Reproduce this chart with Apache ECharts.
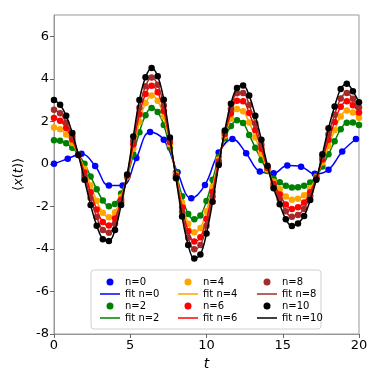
<!DOCTYPE html>
<html>
<head>
<meta charset="utf-8">
<script src="https://cdn.jsdelivr.net/npm/echarts@6/dist/echarts.min.js"></script>
<style>
  html, body { margin: 0; padding: 0; background: #fff; }
  #chart { width: 382px; height: 382px; }
</style>
</head>
<body>
<div id="chart"></div>
<script>
// time points (dense grid for n>=2, coarse grid for n=0)
const tFine = [0,0.4,0.8,1.2,1.6,2,2.4,2.8,3.2,3.6,4,4.4,4.8,
  5.2,5.6,6,6.4,6.8,7.2,7.6,8,8.4,8.8,9.2,9.6,10,
  10.4,10.8,11.2,11.6,12,12.4,12.8,13.2,13.6,14,14.4,14.8,15.2,
  15.6,16,16.4,16.8,17.2,17.6,18,18.4,18.8,19.2,19.6,20]
const tN0 = [0,0.9,1.8,2.7,3.6,4.5,5.4,6.3,7.2,8.1,9,9.9,10.8,11.7,12.6,13.5,14.4,15.3,16.2,17.1,18,18.9,19.8]

const n0 = [0,0.24,0.47,-0.1,-1.02,-1.02,0.27,1.5,1.13,-0.4,-1.62,-0.99,0.53,1.17,0.5,-0.36,-0.44,-0.08,-0.13,-0.47,-0.28,0.58,1.17]
const n2 = [1.11,1.09,0.97,0.76,0.44,0.01,-0.59,-1.19,-1.72,-1.99,-1.89,-1.39,-0.63,
  0.45,1.49,2.29,2.63,2.44,1.83,0.77,-0.41,-1.52,-2.36,-2.6,-2.43,-1.75,
  -0.75,0.32,1.21,1.78,2.05,1.92,1.36,0.76,0.18,-0.34,-0.7,-0.86,-1.03,
  -1.11,-1.1,-1.03,-0.88,-0.57,-0.12,0.45,1.06,1.63,1.93,1.95,1.83]
const n4 = [1.71,1.63,1.38,0.98,0.43,-0.23,-1.01,-1.74,-2.3,-2.51,-2.28,-1.56,-0.59,
  0.71,1.97,2.86,3.22,2.97,2.21,0.92,-0.5,-1.82,-2.82,-3.22,-3.01,-2.23,
  -1.08,0.2,1.32,2.12,2.58,2.47,1.95,1.24,0.48,-0.26,-0.84,-1.19,-1.53,
  -1.69,-1.64,-1.48,-1.14,-0.63,0.06,0.84,1.58,2.23,2.51,2.42,2.17]
const n6 = [2.16,2.03,1.69,1.14,0.43,-0.41,-1.33,-2.15,-2.73,-2.9,-2.57,-1.69,-0.56,
  0.91,2.33,3.28,3.67,3.37,2.49,1.03,-0.56,-2.05,-3.17,-3.65,-3.45,-2.59,
  -1.32,0.11,1.41,2.37,2.97,2.94,2.39,1.59,0.71,-0.2,-0.95,-1.44,-1.91,
  -2.12,-2.04,-1.82,-1.34,-0.67,0.2,1.13,1.97,2.68,2.95,2.76,2.42]
const n8 = [2.55,2.38,1.95,1.29,0.42,-0.57,-1.61,-2.5,-3.11,-3.24,-2.82,-1.8,-0.53,
  1.09,2.64,3.65,4.06,3.72,2.74,1.13,-0.62,-2.25,-3.47,-4.02,-3.82,-2.91,
  -1.54,0.04,1.48,2.58,3.32,3.33,2.77,1.9,0.9,-0.15,-1.04,-1.65,-2.23,
  -2.49,-2.4,-2.11,-1.51,-0.71,0.32,1.39,2.31,3.07,3.33,3.06,2.65]
const n10 = [3,2.78,2.26,1.45,0.42,-0.75,-1.93,-2.91,-3.54,-3.63,-3.11,-1.93,-0.5,
  1.29,3,4.07,4.51,4.12,3.02,1.24,-0.68,-2.48,-3.82,-4.45,-4.26,-3.27,
  -1.78,-0.05,1.57,2.83,3.57,3.69,3.21,2.26,1.13,-0.09,-1.15,-1.9,-2.61,
  -2.92,-2.8,-2.45,-1.7,-0.75,0.45,1.68,2.7,3.52,3.77,3.41,2.9]

const xTicks = [0, 5, 10, 15, 20]
const yTicks = [-8, -6, -4, -2, 0, 2, 4, 6]

const groups = [
  { name: 'n=0', t: tN0, y: n0, color: '#0000ff' },
  { name: 'n=2', t: tFine, y: n2, color: '#008000' },
  { name: 'n=4', t: tFine, y: n4, color: '#ffa500' },
  { name: 'n=6', t: tFine, y: n6, color: '#ff0000' },
  { name: 'n=8', t: tFine, y: n8, color: '#a52a2a' },
  { name: 'n=10', t: tFine, y: n10, color: '#000000' }
]

const pairs = (t, y) => t.map((v, i) => [v, y[i]])

let series = []
groups.forEach((g, k) => {
  series.push({
    name: g.name,
    type: 'scatter',
    data: pairs(g.t, g.y),
    symbol: 'circle',
    symbolSize: 6.5,
    itemStyle: { color: g.color, opacity: 1 },
    z: 2 + k * 2,
    animation: false
  })
  series.push({
    name: 'fit ' + g.name,
    type: 'line',
    data: pairs(g.t, g.y),
    smooth: 0.4,
    showSymbol: false,
    symbol: 'none',
    lineStyle: { color: g.color, width: 1.5 },
    itemStyle: { color: g.color },
    z: 3 + k * 2,
    animation: false
  })
})

// legend icons: dot for data, plain short line for fits
const lineIcon = 'path://M0,0L20,0L20,1.5L0,1.5Z'
const legendItems = names => names.map(n => n.startsWith('fit')
  ? { name: n, icon: lineIcon }
  : { name: n, icon: 'circle' })

const legendBase = {
  orient: 'vertical',
  top: 272,
  itemWidth: 20,
  itemHeight: 7,
  itemGap: 2,
  selectedMode: false,
  z: 20,
  textStyle: { fontFamily: 'DejaVu Sans', fontSize: 10, color: '#000' }
}
const leg = (left, names) => Object.assign({}, legendBase, {
  left: left,
  data: legendItems(names)
})

const chart = echarts.init(document.getElementById('chart'), null, { renderer: 'canvas' })
chart.setOption({
  animation: false,
  grid: {
    left: 54, right: 23, top: 15, bottom: 48,
    show: true, borderColor: '#999', borderWidth: 1
  },
  xAxis: {
    type: 'value',
    min: 0, max: 20, interval: 5,
    name: 't',
    nameLocation: 'middle',
    nameGap: 18,
    nameTextStyle: { fontFamily: 'DejaVu Sans', fontSize: 14, fontStyle: 'italic', color: '#000' },
    axisLine: { show: true, onZero: false, lineStyle: { color: '#999' } },
    axisTick: { show: true, length: 4, lineStyle: { color: '#666' }, customValues: xTicks },
    axisLabel: { fontFamily: 'DejaVu Sans', fontSize: 13, color: '#000', margin: 5, customValues: xTicks },
    splitLine: { show: false }
  },
  yAxis: {
    type: 'value',
    min: -8, max: 7, interval: 2,
    name: '{a|⟨}{i|x}{a|(}{i|t}{a|)⟩}',
    nameLocation: 'middle',
    nameGap: 27,
    nameRotate: 90,
    nameTextStyle: {
      fontFamily: 'DejaVu Sans', fontSize: 13, color: '#000',
      rich: {
        a: { fontFamily: 'DejaVu Sans', fontSize: 13, color: '#000' },
        i: { fontFamily: 'DejaVu Sans', fontSize: 13, fontStyle: 'italic', color: '#000' }
      }
    },
    axisLine: { show: true, onZero: false, lineStyle: { color: '#999' } },
    axisTick: { show: true, length: 4, lineStyle: { color: '#666' }, customValues: yTicks },
    axisLabel: { fontFamily: 'DejaVu Sans', fontSize: 13, color: '#000', margin: 5, customValues: yTicks },
    splitLine: { show: false }
  },
  graphic: [{
    type: 'rect',
    z: 15,
    shape: { x: 91, y: 270, width: 230, height: 59, r: 3 },
    style: { fill: 'rgba(255,255,255,0.85)', stroke: '#d0d0d0', lineWidth: 1 }
  }],
  legend: [
    leg(95, ['n=0', 'fit n=0', 'n=2', 'fit n=2']),
    leg(173, ['n=4', 'fit n=4', 'n=6', 'fit n=6']),
    leg(252, ['n=8', 'fit n=8', 'n=10', 'fit n=10'])
  ],
  series: series
})
</script>
</body>
</html>
